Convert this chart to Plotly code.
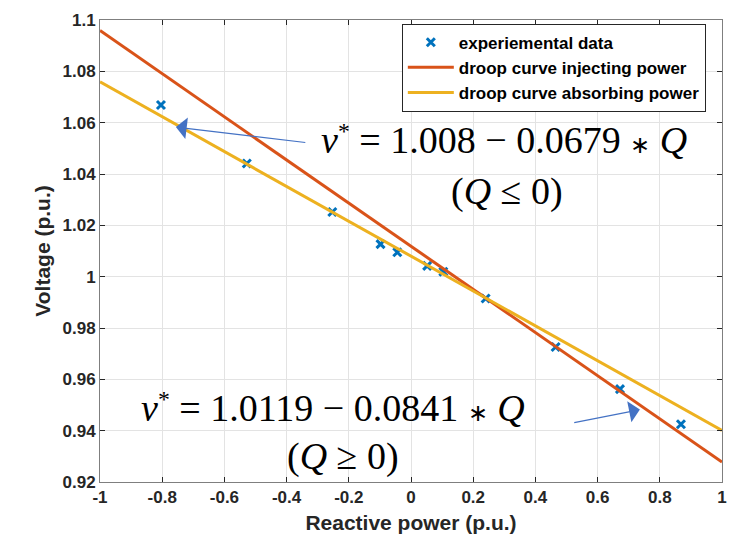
import plotly.graph_objects as go

q_data = [-0.804, -0.528, -0.253, -0.098, -0.044, 0.052, 0.104, 0.240, 0.465, 0.672, 0.868]
v_data = [1.0669, 1.0441, 1.0252, 1.0127, 1.0095, 1.0042, 1.0019, 0.9915, 0.9726, 0.9562, 0.9425]

# Droop lines (end points)
q_line = [-1.0, 1.0]
v_inject = [1.0959, 0.9278]
v_absorb = [1.0759, 0.9401]

x_ticks = [-1, -0.8, -0.6, -0.4, -0.2, 0, 0.2, 0.4, 0.6, 0.8, 1]
x_tick_text = ["-1", "-0.8", "-0.6", "-0.4", "-0.2", "0", "0.2", "0.4", "0.6", "0.8", "1"]
y_ticks = [0.92, 0.94, 0.96, 0.98, 1.0, 1.02, 1.04, 1.06, 1.08, 1.1]
y_tick_text = ["0.92", "0.94", "0.96", "0.98", "1", "1.02", "1.04", "1.06", "1.08", "1.1"]

series_names = ["experiemental data", "droop curve injecting power", "droop curve absorbing power"]

BLUE = "#0072BD"
RED = "#D95319"
YELLOW = "#EDB120"
ARROW = "#4472C4"

def b(s):
    return "<b>" + s + "</b>"

fig = go.Figure()
fig.add_trace(go.Scatter(x=q_data, y=v_data, mode="markers", name=b(series_names[0]),
                         marker=dict(symbol="x-thin", size=8, color=BLUE,
                                     line=dict(width=3, color=BLUE))))
fig.add_trace(go.Scatter(x=q_line, y=v_inject, mode="lines", name=b(series_names[1]),
                         line=dict(color=RED, width=3)))
fig.add_trace(go.Scatter(x=q_line, y=v_absorb, mode="lines", name=b(series_names[2]),
                         line=dict(color=YELLOW, width=3)))

eq_font = dict(family="Liberation Serif", size=38, color="black")
star = '<span style="font-size:24px">∗</span>'
vstar = '<i>v</i><span style="font-size:34px"><sup>*</sup></span>'
fig.add_annotation(x=0.3, y=1.0535, xref="x", yref="y", showarrow=False,
                   text=vstar + " = 1.008 − 0.0679 " + star + " <i>Q</i>", font=eq_font)
fig.add_annotation(x=0.31, y=1.0332, xref="x", yref="y", showarrow=False,
                   text="(<i>Q</i> ≤ 0)", font=eq_font)
fig.add_annotation(x=-0.25, y=0.949, xref="x", yref="y", showarrow=False,
                   text=vstar + " = 1.0119 − 0.0841 " + star + " <i>Q</i>", font=eq_font)
fig.add_annotation(x=-0.22, y=0.930, xref="x", yref="y", showarrow=False,
                   text="(<i>Q</i> ≥ 0)", font=eq_font)

fig.add_annotation(x=-0.756, y=1.0583, ax=-0.335, ay=1.0522, xref="x", yref="y",
                   axref="x", ayref="y", text="", showarrow=True, arrowhead=1,
                   arrowsize=3, arrowwidth=1.2, arrowcolor=ARROW)
fig.add_annotation(x=0.736, y=0.9482, ax=0.520, ay=0.9430, xref="x", yref="y",
                   axref="x", ayref="y", text="", showarrow=True, arrowhead=1,
                   arrowsize=3, arrowwidth=1.2, arrowcolor=ARROW)

tick_font = dict(family="Liberation Sans", size=17, color="#262626")
title_font = dict(family="Liberation Sans", size=21, color="#262626")
fig.update_xaxes(range=[-1, 1], tickvals=x_ticks, ticktext=[b(t) for t in x_tick_text],
                 showgrid=True, gridcolor="#E3E3E3", gridwidth=1,
                 zeroline=False, showline=True, linecolor="#7F7F7F", linewidth=1,
                 mirror="ticks", ticks="inside", ticklen=5, tickcolor="#262626",
                 tickfont=tick_font,
                 title=dict(text=b("Reactive power (p.u.)"), font=title_font, standoff=8))
fig.update_yaxes(range=[0.92, 1.1], tickvals=y_ticks, ticktext=[b(t) for t in y_tick_text],
                 showgrid=True, gridcolor="#E3E3E3", gridwidth=1,
                 zeroline=False, showline=True, linecolor="#7F7F7F", linewidth=1,
                 mirror="ticks", ticks="inside", ticklen=5, tickcolor="#262626",
                 tickfont=tick_font,
                 title=dict(text=b("Voltage (p.u.)"), font=title_font, standoff=6))

fig.update_layout(
    width=739, height=543,
    margin=dict(l=100, r=17, t=11, b=61),
    plot_bgcolor="white", paper_bgcolor="white",
    showlegend=True,
    legend=dict(x=0.974, y=0.992, xanchor="right", yanchor="top",
                bgcolor="white", bordercolor="#262626", borderwidth=1,
                font=dict(family="Liberation Sans", size=17, color="black"),
                tracegroupgap=0, itemwidth=46),
)

fig.write_html("out.html")
